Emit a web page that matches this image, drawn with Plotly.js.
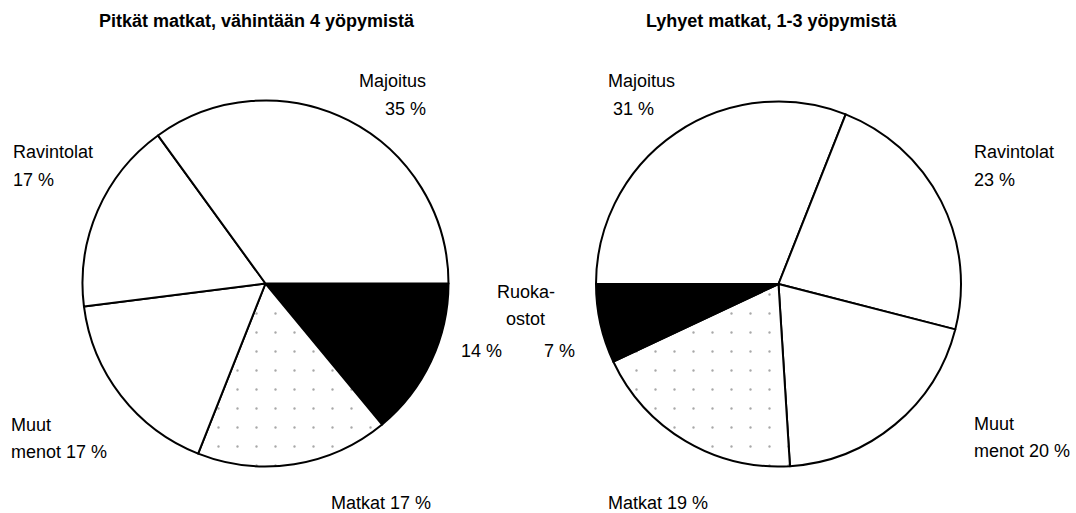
<!DOCTYPE html>
<html>
<head>
<meta charset="utf-8">
<script src="https://cdn.plot.ly/plotly-3.0.1.min.js"></script>
<style>html,body{margin:0;padding:0;background:#fff;}#chart{width:1076px;height:513px;}</style>
</head>
<body>
<div id="chart"></div>
<script>
// ---- data ----
const categories = ["Majoitus", "Ravintolat", "Muut menot", "Matkat", "Ruokaostot"];
const longTrips = [35, 17, 17, 17, 14];   // Pitkät matkat, vähintään 4 yöpymistä
const shortTrips = [31, 23, 20, 19, 7];   // Lyhyet matkat, 1-3 yöpymistä
const titles = ["Pitkät matkat, vähintään 4 yöpymistä", "Lyhyet matkat, 1-3 yöpymistä"];

// ---- styles ----
const fillFor = {"Majoitus": "#ffffff", "Ravintolat": "#ffffff", "Muut menot": "#ffffff", "Matkat": "#ffffff", "Ruokaostot": "#000000"};
const W = 1076, H = 513;
const FONT = "Liberation Sans, Arial, sans-serif";
const px = x => x / W, py = y => 1 - y / H;

function patternFor(cats) {
  return {
    shape: cats.map(c => c === "Matkat" ? "." : ""),
    fgcolor: "#a8a8a8",
    bgcolor: cats.map(c => fillFor[c]),
    size: 19,
    solidity: 0.012
  };
}

function pieTrace(cats, vals, cx, cy, r, rotation) {
  return {
    type: "pie",
    labels: cats,
    values: vals,
    sort: false,
    direction: "clockwise",
    rotation: rotation,
    textinfo: "none",
    hoverinfo: "label+value",
    showlegend: false,
    marker: {
      colors: cats.map(c => fillFor[c]),
      line: {color: "#000000", width: 2},
      pattern: patternFor(cats)
    },
    domain: {x: [px(cx - r), px(cx + r)], y: [py(cy + r), py(cy - r)]}
  };
}

// left pie: slices clockwise from 3 o'clock, reversed category order
const leftCats = categories.slice().reverse();
const leftVals = longTrips.slice().reverse();
const traces = [
  pieTrace(leftCats, leftVals, 265.5, 283.5, 183, 90),
  pieTrace(categories, shortTrips, 778.5, 284, 182.5, -90)
];

const pct = v => v + " %";
function ann(text, x, y, xanchor, opts) {
  return Object.assign({
    text: text, x: px(x), y: py(y), xref: "paper", yref: "paper",
    xanchor: xanchor, yanchor: "middle", showarrow: false,
    font: {family: FONT, size: 18, color: "#000"}
  }, opts || {});
}
const iM = 0, iR = 1, iMu = 2, iMa = 3, iRu = 4;
const annotations = [
  ann("<b>" + titles[0] + "</b>", 256.5, 21, "center"),
  ann("<b>" + titles[1] + "</b>", 771, 21, "center"),
  // left pie labels
  ann(categories[iM], 428, 81, "right"),
  ann(pct(longTrips[iM]), 428, 109, "right"),
  ann(categories[iR], 11, 152, "left"),
  ann(pct(longTrips[iR]), 11, 180, "left"),
  ann("Muut", 9, 425, "left"),
  ann("menot " + pct(longTrips[iMu]), 9, 452, "left"),
  ann(categories[iMa] + " " + pct(longTrips[iMa]), 380.5, 503, "center"),
  // Ruokaostot shared label
  ann("Ruoka-", 525.5, 292, "center"),
  ann("ostot", 525, 319, "center"),
  ann(pct(longTrips[iRu]), 459, 351, "left"),
  ann(pct(shortTrips[iRu]), 577, 351, "right"),
  // right pie labels
  ann(categories[iM], 605.5, 81, "left"),
  ann(pct(shortTrips[iM]), 610.5, 109, "left"),
  ann(categories[iR], 972, 152, "left"),
  ann(pct(shortTrips[iR]), 972, 180, "left"),
  ann("Muut", 972, 424, "left"),
  ann("menot " + pct(shortTrips[iMu]), 972, 451, "left"),
  ann(categories[iMa] + " " + pct(shortTrips[iMa]), 606, 503, "left")
];

const layout = {
  width: W, height: H,
  margin: {l: 0, r: 0, t: 0, b: 0},
  paper_bgcolor: "#ffffff",
  font: {family: FONT, size: 18, color: "#000"},
  showlegend: false,
  annotations: annotations
};

Plotly.newPlot("chart", traces, layout, {displayModeBar: false, staticPlot: true});
</script>
</body>
</html>
